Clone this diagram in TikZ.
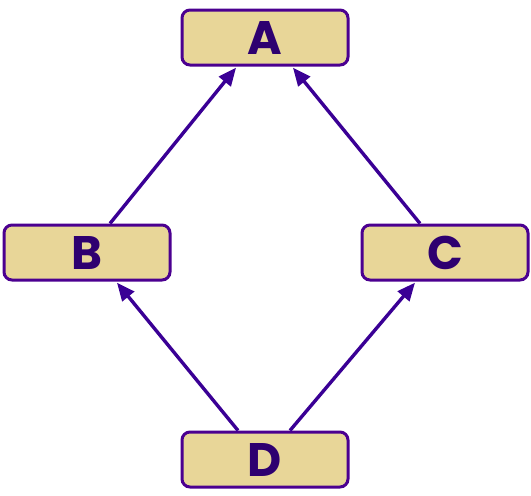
\documentclass[tikz,border=0pt]{standalone}
\usepackage{fontspec}
\setmainfont{Poppins}
\usetikzlibrary{arrows.meta}
\definecolor{boxfill}{HTML}{E8D698}
\definecolor{boxline}{HTML}{4B0090}
\definecolor{boxtext}{HTML}{2E0070}
\definecolor{edge}{HTML}{3A0095}
\begin{document}
\begin{tikzpicture}[x=1pt,y=-1pt,
  box/.style={draw=boxline, line width=3pt, fill=boxfill, rounded corners=8pt,
    minimum width=166pt, minimum height=55pt, inner sep=0pt,
    text=boxtext, font=\fontsize{47}{47}\selectfont\bfseries},
  link/.style={draw=edge, line width=3.4pt, -{Triangle[length=18pt,width=15pt]}, shorten >=1.5pt}]
\useasboundingbox (0,0) rectangle (531,496);
\node[box] (A) at (265,37.5) {A};
\node[box] (B) at (87,252.5) {B};
\node[box] (C) at (445,252.5) {C};
\node[box] (D) at (265,459.5) {D};
\draw[link] ([xshift=23pt]B.north) -- ([xshift=-28pt]A.south);
\draw[link] ([xshift=-25pt]C.north) -- ([xshift=27pt]A.south);
\draw[link] ([xshift=-27pt]D.north) -- ([xshift=29pt]B.south);
\draw[link] ([xshift=25pt]D.north) -- ([xshift=-29pt]C.south);
\end{tikzpicture}
\end{document}
